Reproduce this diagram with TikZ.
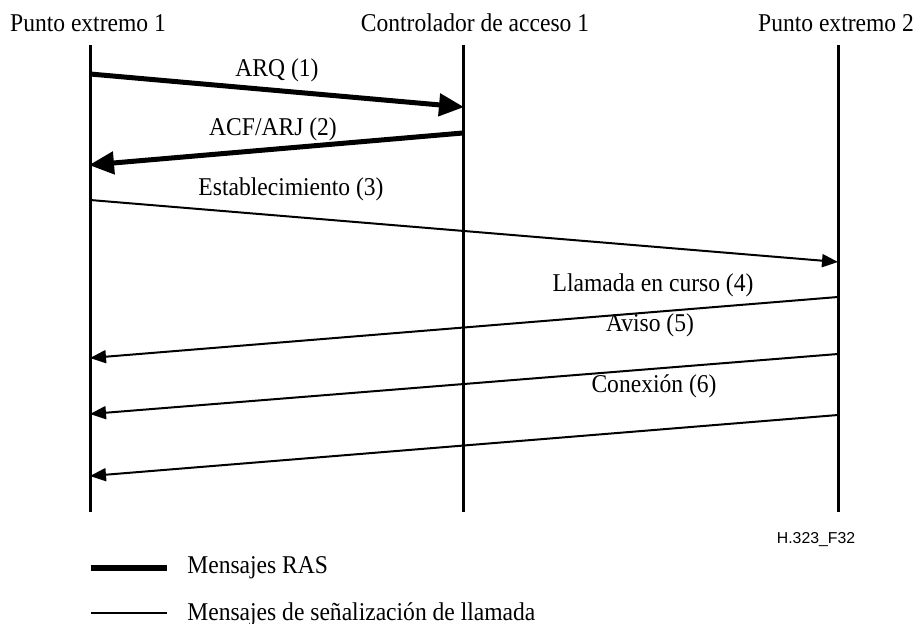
\documentclass[tikz,border=0pt]{standalone}
\usepackage{fontspec}
\setmainfont[FakeStretch=0.92]{Liberation Serif}
\setsansfont{Liberation Sans}
\usetikzlibrary{arrows.meta}
\begin{document}
\begin{tikzpicture}[x=0.5pt,y=-0.5pt,
  lbl/.style={font=\fontsize{12.8pt}{15pt}\selectfont, anchor=base, inner sep=0pt},
  life/.style={line width=1.5pt},
  ras/.style={line width=2.5pt, -{Triangle[length=12.5pt,width=11pt]}, shorten >=-0.5pt},
  sig/.style={line width=1pt, -{Triangle[length=8pt,width=6.5pt]}}]
\useasboundingbox (0,0) rectangle (916,624);
% headers
\node[lbl] (h1) at (88,32) {Punto extremo 1};
\node[lbl] (h2) at (475,32) {Controlador de acceso 1};
\node[lbl] (h3) at (836,32) {Punto extremo 2};
% lifelines
\coordinate (t1) at (90,45); \coordinate (b1) at (90,512);
\coordinate (t2) at (463,45); \coordinate (b2) at (463,512);
\coordinate (t3) at (838,45); \coordinate (b3) at (838,512);
\draw[life] (t1) -- (b1);
\draw[life] (t2) -- (b2);
\draw[life] (t3) -- (b3);
% message endpoints
\coordinate (m1s) at (90,74);  \coordinate (m1e) at (463,107);
\coordinate (m2s) at (463,133); \coordinate (m2e) at (90,165);
\coordinate (m3s) at (90,200); \coordinate (m3e) at (838,262);
\coordinate (m4s) at (838,297); \coordinate (m4e) at (90,358);
\coordinate (m5s) at (838,354); \coordinate (m5e) at (90,414);
\coordinate (m6s) at (838,415); \coordinate (m6e) at (90,476);
\draw[ras] (m1s) -- (m1e);
\draw[ras] (m2s) -- (m2e);
\draw[sig] (m3s) -- (m3e);
\draw[sig] (m4s) -- (m4e);
\draw[sig] (m5s) -- (m5e);
\draw[sig] (m6s) -- (m6e);
% labels
\node[lbl] (l1) at (277,77) {ARQ (1)};
\node[lbl] (l2) at (273,136) {ACF/ARJ (2)};
\node[lbl] (l3) at (291,196) {Establecimiento (3)};
\node[lbl] (l4) at (653,292) {Llamada en curso (4)};
\node[lbl] (l5) at (650,332) {Aviso (5)};
\node[lbl] (l6) at (654,393) {Conexión (6)};
% figure id
\node[font=\sffamily\fontsize{7.9pt}{9pt}\selectfont, anchor=base, inner sep=0pt] (fid) at (816,544) {H.323\_F32};
% legend
\coordinate (ra) at (91,568); \coordinate (rb) at (167,568);
\coordinate (sa) at (91,613); \coordinate (sb) at (167,613);
\draw[line width=3pt] (ra) -- (rb);
\draw[line width=1pt] (sa) -- (sb);
\node[lbl, anchor=base west] (k1) at (187,574) {Mensajes RAS};
\node[lbl, anchor=base west] (k2) at (187,621) {Mensajes de señalización de llamada};
\end{tikzpicture}
\end{document}
